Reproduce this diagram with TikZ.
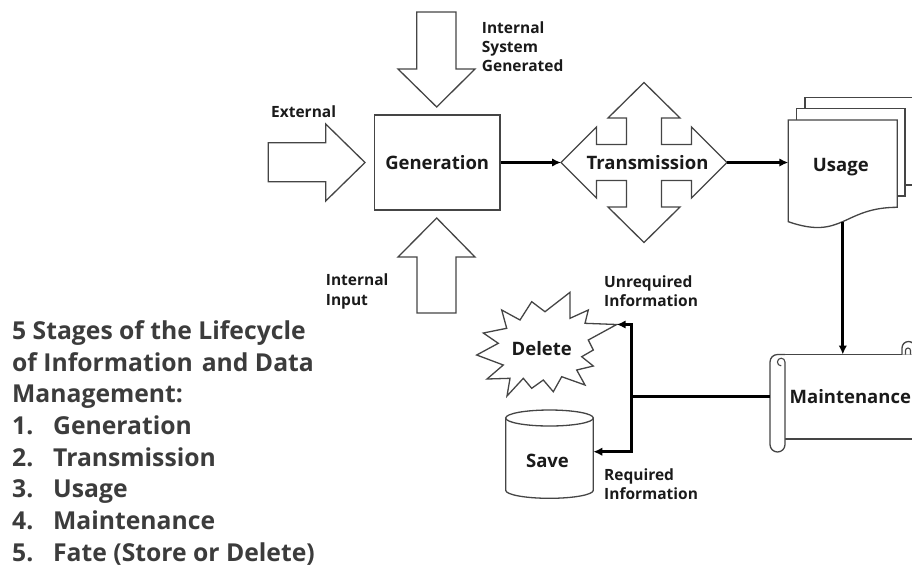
\documentclass[tikz,border=0pt]{standalone}
\usepackage{fontspec}
\setmainfont{Open Sans}
\usetikzlibrary{arrows.meta,calc}
\definecolor{edge}{HTML}{454545}
\definecolor{ink}{HTML}{1A1A1A}
\definecolor{listink}{HTML}{3C3C3C}
\tikzset{
  shapeline/.style={draw=edge, line width=1.3pt, fill=white, line join=miter},
  thinline/.style={draw=edge, line width=1.1pt},
  conn/.style={draw=black, line width=2.7pt, -{Latex[length=9pt,width=8.5pt]}},
  lbl/.style={inner sep=0pt, text=ink, font=\fontsize{18.5}{22}\selectfont\bfseries},
  small/.style={inner sep=0pt, text=ink, font=\fontsize{15.5}{19}\selectfont\bfseries, anchor=base west},
  listline/.style={inner sep=0pt, text=listink, font=\fontsize{24.7}{31}\selectfont\bfseries, anchor=base west},
}
\begin{document}
\begin{tikzpicture}[x=1pt,y=-1pt]
\useasboundingbox (0,0) rectangle (912,566);

% block arrows feeding the Generation box
\draw[shapeline] (416.7,12) -- (456,12) -- (456,69) -- (475,69) -- (436.7,107) -- (398,69) -- (416.7,69) -- cycle;
\draw[shapeline] (417,313) -- (456,313) -- (456,257) -- (475,257) -- (436.7,218) -- (398,257) -- (417,257) -- cycle;
\draw[shapeline] (268.3,142.7) -- (325.7,142.7) -- (325.7,124) -- (365,162.5) -- (325.7,201) -- (325.7,181.7) -- (268.3,181.7) -- cycle;

\node[small] (lisg1) at (481.7,33.3) {Internal};
\node[small] (lisg2) at (481.7,52.3) {System};
\node[small] (lisg3) at (481.7,71.7) {Generated};
\node[small] (lext) at (271,117.3) {External};
\node[small] (lii1) at (325.7,285) {Internal};
\node[small] (lii2) at (325.7,305.5) {Input};

% Generation
\node[shapeline, lbl, minimum width=125.7pt, minimum height=95pt] (gen) at (437.2,162.5) {Generation};

% Transmission: four-way block arrow
\begin{scope}[shift={(644,162.5)}]
\draw[shapeline] (-83,0) -- (-47.5,-35.5) -- (-47.5,-18) -- (-17.5,-18) -- (-17.5,-44.5) -- (-36,-44.5)
  -- (0,-80) -- (36,-44.5) -- (17.5,-44.5) -- (17.5,-18) -- (47.5,-18) -- (47.5,-35.5)
  -- (83,0) -- (47.5,35.5) -- (47.5,18) -- (17.5,18) -- (17.5,44.5) -- (36,44.5)
  -- (0,80) -- (-36,44.5) -- (-17.5,44.5) -- (-17.5,18) -- (-47.5,18) -- (-47.5,35.5) -- cycle;
\coordinate (trL) at (-83,0);
\coordinate (trR) at (83,0);
\end{scope}
\node[lbl, anchor=base] (trtext) at (647.5,169.3) {Transmission};

% Usage: stack of documents
\draw[shapeline] (805,97.3) rectangle (913,185);
\draw[shapeline] (796.7,108.3) rectangle (905,196);
\draw[shapeline] (788.3,120) -- (897.3,120) -- (897.3,207.3)
  .. controls (842.8,207.3) and (842.8,240.6) .. (788.3,221.7) -- cycle;
\node[lbl, anchor=base] (usage) at (840.8,171) {Usage};
\coordinate (usageL) at (788.3,162.5);
\coordinate (usageB) at (842.8,221.6);

% Maintenance: horizontal scroll
\fill[white] (777,354.5) rectangle (915,439);
\draw[shapeline] (777.5,354.5) -- (915,354.5);
\draw[shapeline] (785,439) -- (915,439);
\draw[shapeline] (902,354.5) -- (902,348) arc[start angle=180,end angle=360,radius=6.5] -- (915,354.5);
\draw[thinline] (905.5,354.5) -- (905.5,350.5) arc[start angle=180,end angle=360,radius=2.5] -- (910.5,354.5);
\draw[shapeline] (785,362) -- (785,444.5) arc[start angle=0,end angle=180,radius=7.5]
  -- (770,362) arc[start angle=180,end angle=270,radius=7.5] -- (785,354.5);
\draw[thinline] (785,362) arc[start angle=0,end angle=-270,radius=3.8];
\node[lbl, anchor=base] (maint) at (850.3,403.3) {Maintenance};
\coordinate (maintT) at (842.8,354.5);
\coordinate (maintL) at (770,396.7);

% Delete: explosion
\draw[shapeline] (501.7,310) -- (520,320) -- (531.7,301.7) -- (545,311.7) -- (570,292.3) -- (570,318.3)
  -- (588.3,310) -- (585,323.3) -- (616.7,324.5) -- (588.3,340) -- (593.3,350) -- (581.7,356.7)
  -- (593.3,366) -- (576.7,370) -- (585,385) -- (561.7,376.7) -- (553.3,391.7) -- (543.3,380)
  -- (531.7,388.3) -- (523.3,378.3) -- (507,396) -- (510,378.3) -- (487,379) -- (503.3,365)
  -- (476.7,355) -- (498.3,343.3) -- (483.3,333) -- (506.7,328.3) -- cycle;
\node[lbl, anchor=base] (del) at (541.7,355.5) {Delete};
\coordinate (delR) at (616.7,324.5);

% Save: cylinder
\draw[shapeline] (505.7,418) -- (505.7,490.3) arc[start angle=180,end angle=0,x radius=43.8,y radius=8] -- (593.3,418);
\draw[shapeline] (549.5,418) ellipse[x radius=43.8,y radius=8];
\node[lbl, anchor=base] (save) at (547.5,467) {Save};
\coordinate (saveR) at (593.3,451.7);

\node[small] (lun1) at (604,287.7) {Unrequired};
\node[small] (lun2) at (604,306.7) {Information};
\node[small] (lrq1) at (604,480) {Required};
\node[small] (lrq2) at (604,499.3) {Information};

% connectors
\draw[conn] (gen.east) -- (trL);
\draw[conn] (trR) -- (usageL);
\draw[conn] (usageB) -- (maintT);
\coordinate (jn) at (631.7,396.7);
\draw[conn] (maintL) -- (jn) |- (delR);
\draw[conn] (jn) |- (saveR);

% stage list
\node[listline] (t1) at (12,339.3) {5 Stages of the Lifecycle};
\node[listline] (t2) at (12,371) {of Information \hspace{2.5pt}and Data};
\node[listline] (t3) at (12,402.7) {Management:};
\node[listline] (t4) at (12,434.4) {\makebox[41pt][l]{1.}Generation};
\node[listline] (t5) at (12,466.1) {\makebox[41pt][l]{2.}Transmission};
\node[listline] (t6) at (12,497.8) {\makebox[41pt][l]{3.}Usage};
\node[listline] (t7) at (12,529.5) {\makebox[41pt][l]{4.}Maintenance};
\node[listline] (t8) at (12,561.2) {\makebox[41pt][l]{5.}Fate (Store or Delete)};
\end{tikzpicture}
\end{document}
